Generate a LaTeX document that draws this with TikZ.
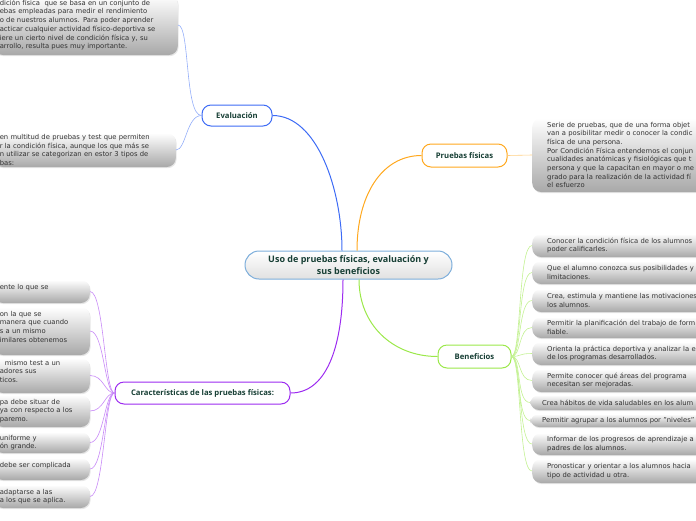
\documentclass[tikz,border=0pt]{standalone}
\usepackage{fontspec}
\setmainfont{DejaVu Sans}
\newfontfamily\titlefont{Open Sans}
\usepackage{tikz}
\usetikzlibrary{calc, shadows}
\usepackage{xcolor}
\definecolor{titletext}{HTML}{173F35}
\definecolor{leaftext}{HTML}{333333}
\definecolor{evalcolor}{HTML}{3D6BF5}
\definecolor{pruebascolor}{HTML}{FFA81E}
\definecolor{benefcolor}{HTML}{9BE84A}
\definecolor{caraccolor}{HTML}{9C2BF0}
\definecolor{centralcolor}{HTML}{7DAEDB}

\begin{document}
\begin{tikzpicture}[x=1pt, y=-1pt,
    topic/.style={draw, line width=1pt, fill=white, rounded corners=9pt, inner sep=0pt, text=titletext, font=\titlefont\bfseries\fontsize{7.7}{9}\selectfont},
    leaf/.style={rounded corners=9pt, top color=white, bottom color=black!34, drop shadow={shadow xshift=0.8pt, shadow yshift=-1.2pt, opacity=0.2}, text=leaftext, align=left, inner ysep=1pt, font=\fontsize{6.8}{8.7}\selectfont},
    leftleaf/.style={leaf, anchor=east, inner xsep=6pt},
    rightleaf/.style={leaf, anchor=west, inner xsep=15pt, text width=260pt},
    branch/.style={line width=1pt},
    twig/.style={line width=0.6pt},
]
\useasboundingbox (0,0) rectangle (696,520);
\clip (0,0) rectangle (696,520);

% Central topic
\node[draw=centralcolor, line width=1pt, rounded corners=14pt, top color=white, bottom color=black!12,
      minimum width=207pt, minimum height=28pt, inner sep=0pt, align=center, text=titletext,
      font=\titlefont\bfseries\fontsize{9}{12}\selectfont] (cen) at (348.5,265)
    {Uso de pruebas físicas, evaluación y\\sus beneficios};

% Main topics
\node[topic, draw=evalcolor, minimum width=70pt, minimum height=21pt] (eval) at (237,115.5) {Evaluación};
\node[topic, draw=pruebascolor, minimum width=85pt, minimum height=23pt] (pruebas) at (464.5,155.5) {Pruebas físicas};
\node[topic, draw=benefcolor, minimum width=73pt, minimum height=23pt] (benef) at (474.5,356.5) {Beneficios};
\node[topic, draw=caraccolor, minimum width=175pt, minimum height=22pt] (carac) at (202.5,393) {Características de las pruebas físicas:};

% Evaluación details
\node[leftleaf, text width=172pt, minimum height=60pt] (e1) at (178,25) {%
    dición física\ \ que se basa en un conjunto de\\
    ebas empleadas para medir el rendimiento\\
    o de nuestros alumnos. Para poder aprender\\
    acticar cualquier actividad físico-deportiva se\\
    iere un cierto nivel de condición física y, su\\
    arrollo, resulta pues muy importante.};
\node[leftleaf, text width=170pt, minimum height=34pt] (e2) at (176,150) {%
    en multitud de pruebas y test que permiten\\
    r la condición física, aunque los que más se\\
    n utilizar se categorizan en estor 3 tipos de\\
    bas:};

% Pruebas físicas detail
\node[rightleaf, minimum height=74pt] (p1) at (532,155) {%
    Serie de pruebas, que de una forma objet\\
    van a posibilitar medir o conocer la condic\\
    física de una persona.\\
    Por Condición Física entendemos el conjun\\
    cualidades anatómicas y fisiológicas que t\\
    persona y que la capacitan en mayor o me\\
    grado para la realización de la actividad fí\\
    el esfuerzo};

% Beneficios list
\node[rightleaf, minimum height=23pt] (b1) at (532,245.5) {Conocer la condición física de los alumnos\\poder calificarles.};
\node[rightleaf, minimum height=23pt] (b2) at (532,272.5) {Que el alumno conozca sus posibilidades y\\limitaciones.};
\node[rightleaf, minimum height=23pt] (b3) at (532,300.5) {Crea, estimula y mantiene las motivaciones\\los alumnos.};
\node[rightleaf, minimum height=21pt] (b4) at (532,327.5) {Permitir la planificación del trabajo de form\\fiable.};
\node[rightleaf, minimum height=23pt] (b5) at (532,353.5) {Orienta la práctica deportiva y analizar la e\\de los programas desarrollados.};
\node[rightleaf, minimum height=23pt] (b6) at (532,380.5) {Permite conocer qué áreas del programa\\necesitan ser mejoradas.};
\node[rightleaf, inner xsep=12pt, minimum height=15pt] (b7) at (530,402.5) {Crea hábitos de vida saludables en los alum};
\node[rightleaf, inner xsep=12pt, minimum height=13pt] (b8) at (530,420.5) {Permitir agrupar a los alumnos por "niveles"};
\node[rightleaf, minimum height=22pt] (b9) at (532,444) {Informar de los progresos de aprendizaje a\\padres de los alumnos.};
\node[rightleaf, minimum height=24pt] (b10) at (532,471) {Pronosticar y orientar a los alumnos hacia\\tipo de actividad u otra.};

% Características list
\node[leftleaf, text width=84pt, minimum height=23pt] (c1) at (90,291.5) {ente lo que se\\ \mbox{}};
\node[leftleaf, text width=84pt, minimum height=48pt] (c2) at (90,331) {on la que se\\manera que cuando\\s a un mismo\\imilares obtenemos\\ \mbox{}};
\node[leftleaf, text width=84pt, minimum height=35pt] (c3) at (90,375.5) {\hspace{5pt}mismo test a un\\adores sus\\ticos.\\ \mbox{}};
\node[leftleaf, text width=84pt, minimum height=32pt] (c4) at (90,411) {pa debe situar de\\ya con respecto a los\\paremo.};
\node[leftleaf, text width=84pt, minimum height=21pt] (c5) at (90,442.5) {uniforme y\\ón grande.};
\node[leftleaf, text width=84pt, minimum height=22pt] (c6) at (90,469) {debe ser complicada\\ \mbox{}};
\node[leftleaf, text width=84pt, minimum height=23pt] (c7) at (90,496.5) {adaptarse a las\\a los que se aplica.};

% Branches from the central topic
\draw[branch, evalcolor] ($(cen.north)+(-6.5,0)$) .. controls +(0,-60) and +(45,0) .. (eval.east);
\draw[branch, pruebascolor] ($(cen.north)+(8.5,0)$) .. controls +(0,-55) and +(-40,0) .. (pruebas.west);
\draw[branch, benefcolor] ($(cen.south)+(10.5,0)$) .. controls +(0,45) and +(-45,0) .. (benef.west);
\draw[branch, caraccolor] ($(cen.south)+(-5.5,0)$) .. controls +(0,70) and +(35,0) .. (carac.east);

% Twigs to the details
\draw[twig, evalcolor!55] (eval.west) .. controls +(-17,0) and +(12,0) .. (e1.east);
\draw[twig, evalcolor!55] (eval.west) .. controls +(-15,0) and +(10,0) .. (e2.east);
\draw[twig, pruebascolor!55] (pruebas.east) -- (p1.west);
\foreach \i in {1,...,10}
    \draw[twig, benefcolor!60] (benef.east) .. controls +(10,0) and +(-14,0) .. (b\i.west);
\foreach \i in {1,...,7}
    \draw[twig, caraccolor!55] (carac.west) .. controls +(-10,0) and +(14,0) .. (c\i.east);

\end{tikzpicture}
\end{document}
